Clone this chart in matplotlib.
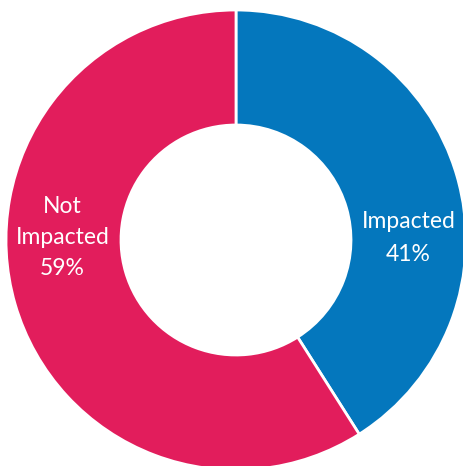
import matplotlib.pyplot as plt

labels = ['Impacted', 'Not\nImpacted']
shares = [41, 59]
colors = ['#0477BD', '#E21D5C']

W, H = 464, 466
cx, cy, r = 236, 240, 230  # pixel centre and outer radius

fig = plt.figure(figsize=(W / 100, H / 100), dpi=100)
ax = fig.add_axes([0, 0, 1, 1])

ax.pie(shares, colors=colors, startangle=90, counterclock=False,
       radius=1.0, wedgeprops=dict(width=0.5, edgecolor='white', linewidth=2))

ax.set_xlim(-cx / r, (W - cx) / r)
ax.set_ylim(-(H - cy) / r, cy / r)
ax.set_aspect('auto')
ax.axis('off')

# labels sit left/right of the hole
for lab, val, x, ls in zip(labels, shares, [0.75, -0.755], [1.7, 1.6]):
    ax.text(x, 0.01, f'{lab}\n{val}%', ha='center', va='center',
            color='white', fontsize=16.5, family='Lato',
            linespacing=ls)

fig.savefig('out.png', dpi=100, facecolor='white')
